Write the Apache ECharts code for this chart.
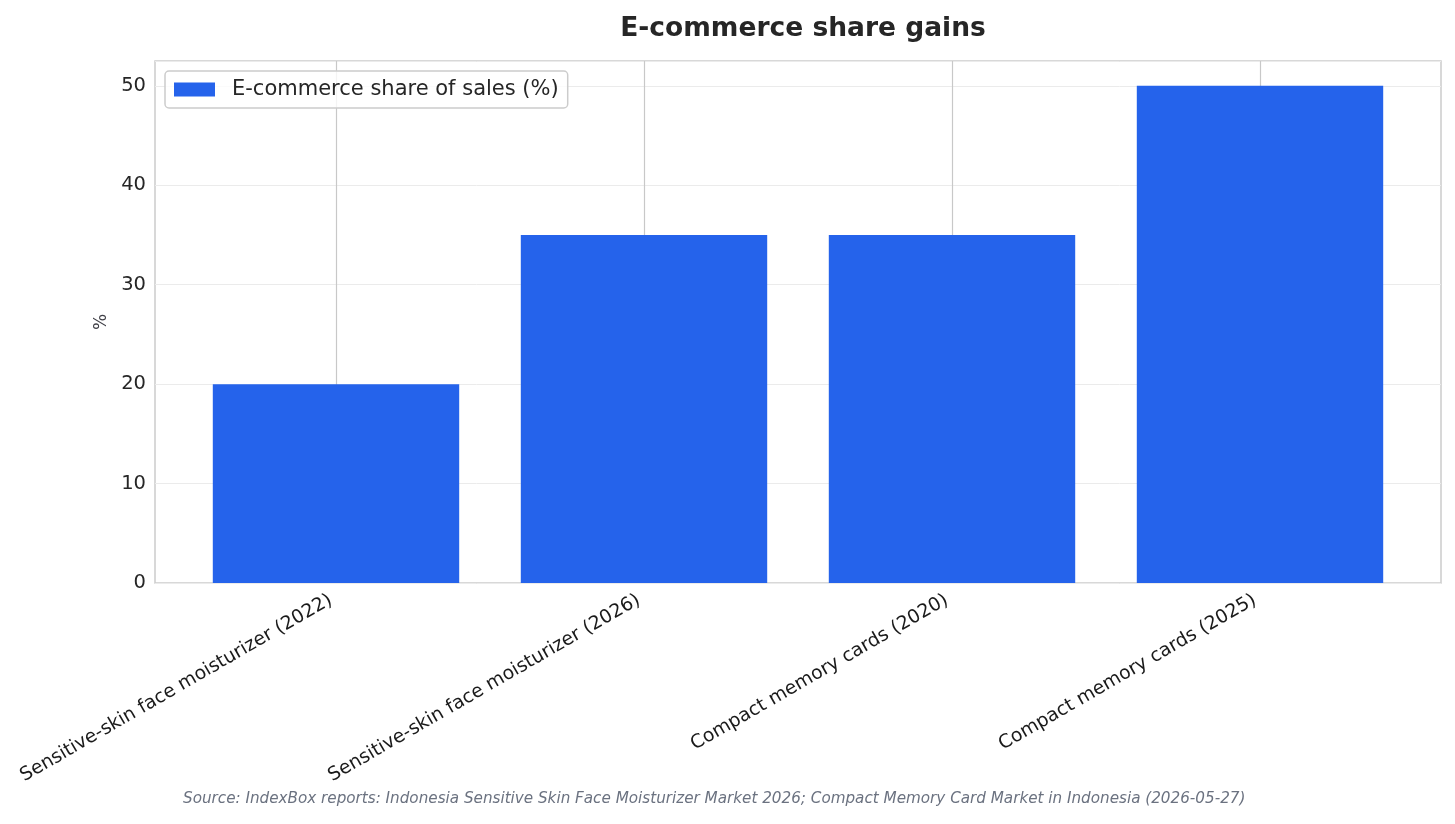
<!DOCTYPE html>
<html>
<head>
<meta charset="utf-8">
<script src="https://cdn.jsdelivr.net/npm/echarts@6/dist/echarts.min.js"></script>
<style>
  html, body { margin: 0; padding: 0; background: #fff; }
  #chart { width: 1455px; height: 824px; }
</style>
</head>
<body>
<div id="chart"></div>
<script>
// chart data
const categories = [
    'Sensitive-skin face moisturizer (2022)',
    'Sensitive-skin face moisturizer (2026)',
    'Compact memory cards (2020)',
    'Compact memory cards (2025)'
];
const shareValues = [20, 35, 35, 50];
const yTicks = [0, 10, 20, 30, 40, 50];
const seriesName = 'E-commerce share of sales (%)';

const chart = echarts.init(document.getElementById('chart'));
const font = 'DejaVu Sans';

const option = {
    backgroundColor: '#ffffff',
    animation: false,
    title: {
        text: 'E-commerce share gains',
        left: 798,          // centred over the plot area, not the page
        textAlign: 'center',
        top: 11,
        textStyle: { fontFamily: font, fontSize: 26.5, fontWeight: 'bold', color: '#262626' }
    },
    legend: {
        left: 165,
        top: 71,
        itemWidth: 41,
        itemHeight: 14,
        padding: [8, 9, 8, 9],
        borderColor: '#cccccc',
        borderWidth: 1.5,
        borderRadius: 4,
        backgroundColor: 'rgba(255,255,255,0.8)',
        textStyle: { fontFamily: font, fontSize: 21, color: '#262626', padding: [0, 0, 0, 12] },
        data: [{ name: seriesName, icon: 'rect' }]
    },
    // grid 0: frame + y axis across the full plot; grid 1: category band with matplotlib-like margins
    grid: [
        { left: 155, right: 14, top: 61, bottom: 241, show: true, borderColor: '#cccccc', borderWidth: 1.5 },
        { left: 182, right: 41, top: 61, bottom: 241 }
    ],
    xAxis: [
        { type: 'value', gridIndex: 0, show: false, min: 0, max: 1 },
        {
            type: 'category',
            gridIndex: 1,
            data: categories,
            axisLine: { show: false },
            axisTick: { show: false, alignWithLabel: true },
            splitLine: { show: true, alignWithLabel: true, lineStyle: { color: '#c8c8c8', width: 1.2 } },
            axisLabel: {
                rotate: 30,
                interval: 0,
                margin: 13,
                padding: [0, 6, 0, 0],
                fontFamily: font,
                fontSize: 18.8,
                color: '#1a1a1a'
            }
        }
    ],
    yAxis: [
        {
            type: 'value',
            gridIndex: 0,
            min: 0,
            max: 52.5,
            interval: 10,
            name: '%',
            nameLocation: 'middle',
            nameGap: 45,
            nameTextStyle: { fontFamily: font, fontSize: 17, color: '#3f3f46' },
            axisLine: { show: false },
            axisTick: { show: false },
            splitLine: { show: true, lineStyle: { color: '#ebebeb', width: 1 } },
            axisLabel: {
                fontFamily: font,
                fontSize: 19.5,
                color: '#262626',
                margin: 9,
                formatter: v => (yTicks.includes(v) ? String(v) : '')
            }
        },
        { type: 'value', gridIndex: 1, show: false, min: 0, max: 52.5 }
    ],
    series: [{
        name: seriesName,
        type: 'bar',
        xAxisIndex: 1,
        yAxisIndex: 1,
        data: shareValues,
        barWidth: '80%',
        itemStyle: { color: '#2563eb' }
    }],
    graphic: [{
        type: 'text',
        left: 183,
        top: 792,
        style: {
            text: 'Source: IndexBox reports: Indonesia Sensitive Skin Face Moisturizer Market 2026; Compact Memory Card Market in Indonesia (2026-05-27)',
            fontFamily: font,
            fontSize: 15.2,
            fontStyle: 'italic',
            fill: '#6b7280'
        }
    }]
};

chart.setOption(option);
</script>
</body>
</html>
